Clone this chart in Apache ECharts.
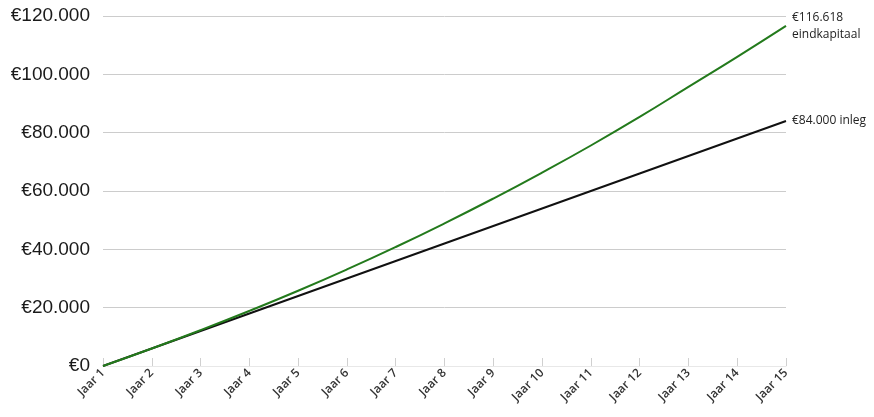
<!DOCTYPE html>
<html>
<head>
<meta charset="utf-8">
<script src="https://cdn.jsdelivr.net/npm/echarts@6/dist/echarts.min.js"></script>
<style>
  html, body { margin: 0; padding: 0; background: #fff; }
  #chart { width: 874px; height: 417px; }
</style>
</head>
<body>
<div id="chart"></div>
<script>
// jaren, inleg en eindkapitaal
const jaren = ["Jaar 1", "Jaar 2", "Jaar 3", "Jaar 4", "Jaar 5", "Jaar 6", "Jaar 7", "Jaar 8",
  "Jaar 9", "Jaar 10", "Jaar 11", "Jaar 12", "Jaar 13", "Jaar 14", "Jaar 15"];
const inleg = [0, 6000, 12000, 18000, 24000, 30000, 36000, 42000, 48000, 54000, 60000, 66000, 72000, 78000, 84000];
const eindkapitaal = [0, 6000, 12300, 18900, 25800, 33100, 40800, 48900, 57400, 66300, 75600, 85400, 95700, 106000, 116618];

const fmtEuro = v => "€" + v.toString().replace(/\B(?=(\d{3})+(?!\d))/g, ".");

const chart = echarts.init(document.getElementById("chart"));
chart.setOption({
  animation: false,
  grid: { left: 103, right: 88, top: 16, bottom: 51, containLabel: false },
  xAxis: {
    type: "category",
    data: jaren,
    boundaryGap: false,
    axisLine: { lineStyle: { color: "#e8e8e8", width: 1 } },
    axisTick: { show: true, inside: true, length: 8, lineStyle: { color: "#d0d0d0" } },
    axisLabel: {
      rotate: 45,
      margin: 5,
      fontFamily: "Open Sans",
      fontWeight: 600,
      fontSize: 12,
      color: "#333"
    }
  },
  yAxis: {
    type: "value",
    min: 0,
    max: 120000,
    interval: 20000,
    axisLine: { show: false },
    axisTick: { show: false },
    splitLine: { lineStyle: { color: "#cccccc", width: 1 } },
    axisLabel: {
      formatter: fmtEuro,
      fontFamily: "Liberation Sans",
      fontSize: 19,
      color: "#1a1a1a",
      margin: 13
    }
  },
  series: [
    {
      name: "inleg",
      type: "line",
      data: inleg,
      showSymbol: false,
      lineStyle: { color: "#111111", width: 2 },
      z: 2,
      endLabel: {
        show: true,
        formatter: p => fmtEuro(p.value) + " inleg",
        fontFamily: "Open Sans",
        fontSize: 12,
        color: "#222",
        distance: 6
      }
    },
    {
      name: "eindkapitaal",
      type: "line",
      data: eindkapitaal,
      smooth: true,
      showSymbol: false,
      lineStyle: { color: "#237a1c", width: 2 },
      z: 3,
      endLabel: {
        show: true,
        formatter: p => fmtEuro(p.value) + "\neindkapitaal",
        fontFamily: "Open Sans",
        fontSize: 12,
        lineHeight: 17,
        color: "#222",
        distance: 6
      }
    }
  ]
});
</script>
</body>
</html>
